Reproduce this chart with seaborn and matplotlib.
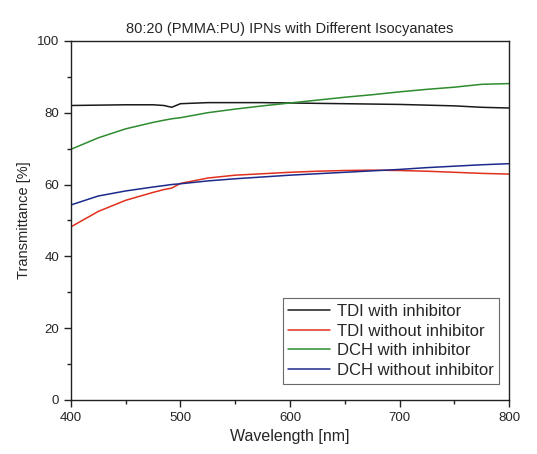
import pandas as pd
import numpy as np
import matplotlib
matplotlib.use("Agg")
import matplotlib.pyplot as plt
from matplotlib.ticker import MultipleLocator
import seaborn as sns

# values
wavelength = [400, 425, 450, 475, 485, 492, 500, 525, 550, 575, 600, 625, 650, 675, 700, 725, 750, 775, 800]
tdi_with = [82.0, 82.1, 82.2, 82.2, 82.0, 81.5, 82.5, 82.8, 82.8, 82.8, 82.7, 82.6, 82.5, 82.4, 82.3, 82.1, 81.9, 81.5, 81.3]
tdi_without = [48.2, 52.5, 55.6, 57.8, 58.6, 59.0, 60.3, 61.8, 62.6, 63.0, 63.4, 63.7, 63.9, 64.0, 63.9, 63.7, 63.4, 63.1, 62.9]
dch_with = [69.8, 73.0, 75.5, 77.3, 77.9, 78.3, 78.6, 80.0, 81.0, 81.9, 82.7, 83.5, 84.3, 85.0, 85.8, 86.5, 87.1, 87.9, 88.1]
dch_without = [54.3, 56.8, 58.2, 59.3, 59.7, 60.0, 60.2, 61.0, 61.6, 62.1, 62.6, 63.0, 63.4, 63.8, 64.2, 64.7, 65.1, 65.5, 65.8]

series_names = ["TDI with inhibitor", "TDI without inhibitor", "DCH with inhibitor", "DCH without inhibitor"]
series_values = [tdi_with, tdi_without, dch_with, dch_without]
colors = ["#1a1a1a", "#e0301e", "#2e8b2e", "#1c2a8c"]

# long-form table for seaborn
frames = []
for name, vals in zip(series_names, series_values):
    frames.append(pd.DataFrame({"Wavelength": wavelength, "Transmittance": vals, "Sample": name}))
df = pd.concat(frames, ignore_index=True)

sns.set_style("ticks")
plt.rcParams['font.family'] = ['Liberation Sans', 'DejaVu Sans']

fig = plt.figure(figsize=(5.37, 4.54), dpi=100)
ax = fig.add_axes([0.132, 0.119, 0.816, 0.791])

sns.lineplot(data=df, x="Wavelength", y="Transmittance", hue="Sample",
             hue_order=series_names, palette=colors, linewidth=1.1, ax=ax)

ax.set_xlim(400, 800)
ax.set_ylim(0, 100)
ax.xaxis.set_major_locator(MultipleLocator(100))
ax.xaxis.set_minor_locator(MultipleLocator(50))
ax.yaxis.set_major_locator(MultipleLocator(20))
ax.yaxis.set_minor_locator(MultipleLocator(10))
ax.tick_params(which="major", direction="out", length=5, width=1, labelsize=9.5, color="#222222")
ax.tick_params(which="minor", direction="out", length=3, width=1, color="#222222")
for s in ax.spines.values():
    s.set_color("#222222")
    s.set_linewidth(1)

ax.set_xlabel("Wavelength [nm]", fontsize=11.5)
ax.set_ylabel("Transmittance [%]", fontsize=10.5)
ax.set_title("80:20 (PMMA:PU) IPNs with Different Isocyanates", fontsize=10.5, pad=6)

leg = ax.legend(loc="lower right", frameon=True, fancybox=False, fontsize=12,
                handlelength=2.5, borderpad=0.35, labelspacing=0.28, handletextpad=0.4,
                bbox_to_anchor=(0.997, 0.022))
leg.get_frame().set_edgecolor("#444444")
leg.get_frame().set_linewidth(0.8)

fig.savefig("out.png", dpi=100, facecolor="white")
